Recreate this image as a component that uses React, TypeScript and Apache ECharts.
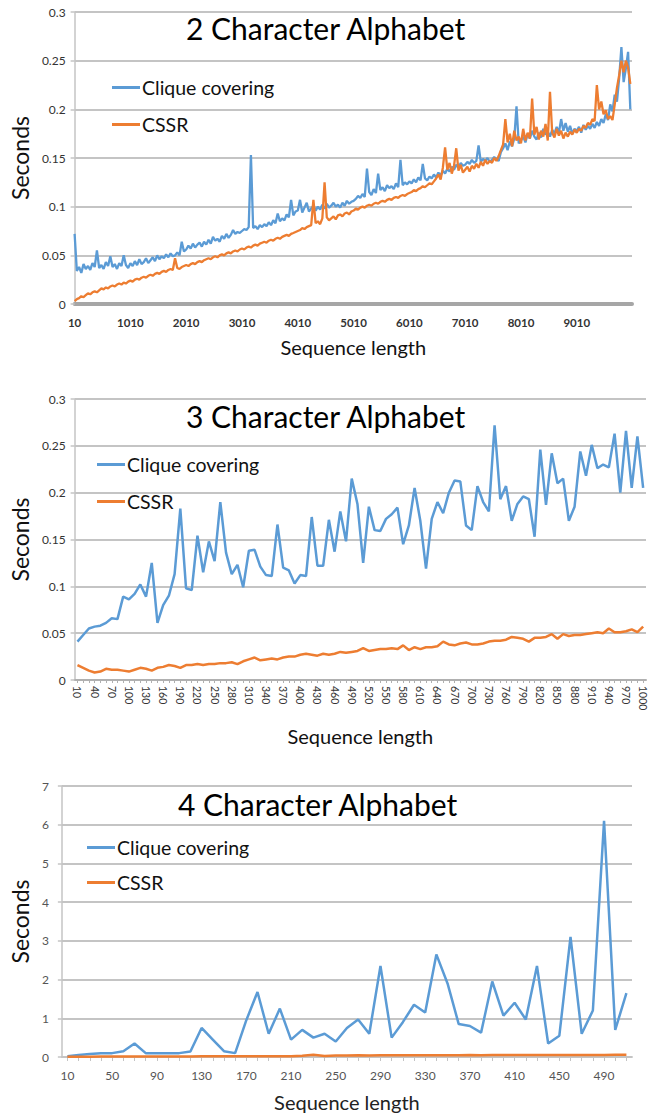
import React, { useEffect, useRef } from "react";
import * as echarts from "echarts";

const BLUE = "#5B9BD5";
const ORANGE = "#ED7D31";
const FONT = "Lato, 'Liberation Sans', sans-serif";

const TITLES = ["2 Character Alphabet", "3 Character Alphabet", "4 Character Alphabet"];
const SERIES_NAMES = ["Clique covering", "CSSR"];

// Panel 1: 2 character alphabet (categories 10..10000, sampled every 40)
const CATS_2 = Array.from({ length: 1000 }, (_, i) => String(10 + 10 * i));
const LEN_2 = Array.from({ length: 250 }, (_, i) => String(10 + 40 * i));
const CLIQUE_2 = [
  0.072, 0.034, 0.038, 0.032, 0.041, 0.036, 0.039, 0.035, 0.042, 0.038, 0.055, 0.037, 0.040, 0.036, 0.043, 0.039, 0.049, 0.038, 0.041, 0.036, 0.042, 0.039, 0.050, 0.040, 0.037,
  0.042, 0.039, 0.044, 0.040, 0.046, 0.041, 0.043, 0.047, 0.042, 0.045, 0.048, 0.044, 0.050, 0.046, 0.049, 0.047, 0.051, 0.048, 0.052, 0.049, 0.050, 0.053, 0.050, 0.064, 0.054,
  0.056, 0.060, 0.057, 0.062, 0.058, 0.061, 0.063, 0.059, 0.064, 0.061, 0.066, 0.062, 0.069, 0.065, 0.067, 0.064, 0.070, 0.067, 0.072, 0.068, 0.071, 0.076, 0.072, 0.074, 0.073,
  0.075, 0.077, 0.076, 0.079, 0.153, 0.078, 0.080, 0.077, 0.081, 0.079, 0.082, 0.080, 0.084, 0.081, 0.086, 0.083, 0.093, 0.085, 0.088, 0.086, 0.092, 0.089, 0.107, 0.091, 0.095,
  0.096, 0.107, 0.094, 0.099, 0.104, 0.095, 0.098, 0.101, 0.096, 0.100, 0.097, 0.102, 0.098, 0.103, 0.099, 0.101, 0.104, 0.100, 0.102, 0.099, 0.104, 0.101, 0.106, 0.103, 0.105,
  0.106, 0.108, 0.111, 0.109, 0.113, 0.110, 0.139, 0.115, 0.112, 0.118, 0.114, 0.134, 0.117, 0.120, 0.116, 0.122, 0.119, 0.121, 0.118, 0.124, 0.120, 0.148, 0.122, 0.125, 0.123,
  0.126, 0.124, 0.128, 0.125, 0.130, 0.127, 0.144, 0.129, 0.127, 0.131, 0.129, 0.133, 0.130, 0.135, 0.132, 0.137, 0.134, 0.139, 0.136, 0.141, 0.138, 0.143, 0.140, 0.145, 0.142,
  0.143, 0.146, 0.144, 0.148, 0.145, 0.147, 0.163, 0.146, 0.149, 0.147, 0.150, 0.146, 0.148, 0.151, 0.149, 0.147, 0.156, 0.160, 0.165, 0.158, 0.167, 0.162, 0.170, 0.203, 0.165,
  0.168, 0.172, 0.166, 0.175, 0.170, 0.178, 0.172, 0.169, 0.176, 0.171, 0.180, 0.174, 0.177, 0.172, 0.179, 0.175, 0.182, 0.176, 0.190, 0.178, 0.186, 0.177, 0.183, 0.175, 0.180,
  0.178, 0.182, 0.176, 0.184, 0.179, 0.183, 0.180, 0.185, 0.181, 0.187, 0.183, 0.190, 0.186, 0.195, 0.189, 0.205, 0.198, 0.215, 0.208, 0.232, 0.264, 0.228, 0.242, 0.259, 0.200,
];
const CSSR_2 = [
  0.003, 0.005, 0.006, 0.008, 0.007, 0.009, 0.011, 0.010, 0.012, 0.013, 0.012, 0.014, 0.016, 0.015, 0.017, 0.016, 0.018, 0.019, 0.018, 0.020, 0.021, 0.020, 0.022, 0.021, 0.023,
  0.024, 0.023, 0.025, 0.026, 0.025, 0.027, 0.028, 0.027, 0.029, 0.030, 0.029, 0.031, 0.032, 0.031, 0.033, 0.034, 0.033, 0.035, 0.036, 0.035, 0.047, 0.037, 0.036, 0.038, 0.039,
  0.040, 0.039, 0.041, 0.042, 0.041, 0.043, 0.044, 0.043, 0.045, 0.046, 0.047, 0.046, 0.048, 0.049, 0.048, 0.050, 0.051, 0.050, 0.052, 0.053, 0.052, 0.054, 0.055, 0.054, 0.056,
  0.057, 0.056, 0.058, 0.059, 0.058, 0.060, 0.061, 0.060, 0.062, 0.063, 0.064, 0.063, 0.065, 0.066, 0.065, 0.067, 0.068, 0.067, 0.069, 0.070, 0.071, 0.070, 0.072, 0.073, 0.074,
  0.075, 0.076, 0.078, 0.077, 0.079, 0.080, 0.081, 0.107, 0.083, 0.085, 0.082, 0.088, 0.125, 0.089, 0.086, 0.088, 0.090, 0.087, 0.091, 0.092, 0.090, 0.093, 0.094, 0.092, 0.095,
  0.096, 0.098, 0.097, 0.099, 0.100, 0.099, 0.101, 0.102, 0.101, 0.103, 0.104, 0.103, 0.105, 0.106, 0.105, 0.107, 0.108, 0.107, 0.109, 0.110, 0.109, 0.111, 0.112, 0.111, 0.113,
  0.114, 0.115, 0.117, 0.116, 0.118, 0.119, 0.121, 0.120, 0.122, 0.124, 0.123, 0.126, 0.129, 0.133, 0.128, 0.140, 0.161, 0.138, 0.145, 0.134, 0.142, 0.160, 0.137, 0.143, 0.135,
  0.138, 0.141, 0.136, 0.142, 0.139, 0.144, 0.140, 0.146, 0.142, 0.148, 0.144, 0.147, 0.145, 0.150, 0.147, 0.152, 0.158, 0.164, 0.190, 0.166, 0.175, 0.162, 0.178, 0.168, 0.172,
  0.165, 0.180, 0.168, 0.176, 0.170, 0.211, 0.174, 0.182, 0.169, 0.178, 0.172, 0.185, 0.168, 0.218, 0.176, 0.171, 0.180, 0.173, 0.178, 0.170, 0.176, 0.172, 0.177, 0.174, 0.179,
  0.176, 0.180, 0.178, 0.183, 0.181, 0.186, 0.184, 0.190, 0.188, 0.225, 0.200, 0.208, 0.195, 0.199, 0.190, 0.193, 0.189, 0.205, 0.222, 0.235, 0.250, 0.238, 0.250, 0.243, 0.226,
];

// Panel 2: 3 character alphabet (10..1000)
const CATS_3 = Array.from({ length: 100 }, (_, i) => String(10 + 10 * i));
const CLIQUE_3 = [
  0.041, 0.048, 0.055, 0.057, 0.058, 0.061, 0.066, 0.065, 0.089, 0.086,
  0.092, 0.102, 0.089, 0.125, 0.061, 0.080, 0.090, 0.113, 0.183, 0.098,
  0.096, 0.154, 0.115, 0.148, 0.127, 0.190, 0.136, 0.113, 0.123, 0.099,
  0.138, 0.139, 0.121, 0.112, 0.111, 0.166, 0.120, 0.117, 0.103, 0.112,
  0.111, 0.174, 0.122, 0.122, 0.171, 0.137, 0.180, 0.148, 0.215, 0.188,
  0.125, 0.185, 0.160, 0.159, 0.172, 0.177, 0.184, 0.145, 0.165, 0.205,
  0.170, 0.119, 0.172, 0.190, 0.178, 0.200, 0.213, 0.212, 0.165, 0.160,
  0.207, 0.190, 0.180, 0.272, 0.193, 0.207, 0.170, 0.188, 0.196, 0.193,
  0.153, 0.246, 0.187, 0.242, 0.210, 0.215, 0.170, 0.185, 0.244, 0.218,
  0.251, 0.226, 0.230, 0.227, 0.263, 0.200, 0.266, 0.205, 0.260, 0.205,
];
const CSSR_3 = [
  0.016, 0.013, 0.010, 0.008, 0.009, 0.012, 0.011, 0.011, 0.010, 0.009,
  0.011, 0.013, 0.012, 0.010, 0.013, 0.014, 0.016, 0.015, 0.013, 0.016,
  0.016, 0.017, 0.016, 0.017, 0.017, 0.018, 0.018, 0.019, 0.017, 0.020,
  0.022, 0.024, 0.021, 0.022, 0.023, 0.022, 0.024, 0.025, 0.025, 0.027,
  0.028, 0.027, 0.026, 0.028, 0.027, 0.028, 0.030, 0.029, 0.030, 0.031,
  0.034, 0.031, 0.032, 0.033, 0.033, 0.034, 0.033, 0.037, 0.032, 0.035,
  0.033, 0.035, 0.035, 0.036, 0.041, 0.038, 0.037, 0.039, 0.040, 0.038,
  0.038, 0.039, 0.041, 0.042, 0.042, 0.043, 0.046, 0.045, 0.044, 0.041,
  0.045, 0.045, 0.046, 0.049, 0.044, 0.049, 0.047, 0.048, 0.048, 0.049,
  0.050, 0.051, 0.050, 0.055, 0.051, 0.051, 0.052, 0.054, 0.051, 0.057,
];

// Panel 3: 4 character alphabet (10..510)
const CATS_4 = Array.from({ length: 51 }, (_, i) => String(10 + 10 * i));
const CLIQUE_4 = [
  0.02, 0.05, 0.08, 0.1, 0.1, 0.15, 0.35, 0.1, 0.1, 0.1,
  0.1, 0.14, 0.75, 0.45, 0.15, 0.1, 0.95, 1.68, 0.6, 1.25,
  0.45, 0.7, 0.5, 0.6, 0.4, 0.75, 0.97, 0.6, 2.35, 0.5,
  0.9, 1.35, 1.15, 2.65, 1.9, 0.85, 0.8, 0.63, 1.95, 1.07,
  1.4, 0.97, 2.35, 0.35, 0.55, 3.1, 0.6, 1.2, 6.1, 0.7,
  1.65,
];
const CSSR_4 = [
  0.005, 0.006, 0.008, 0.01, 0.01, 0.012, 0.012, 0.013, 0.014, 0.015,
  0.015, 0.016, 0.017, 0.018, 0.018, 0.019, 0.02, 0.02, 0.021, 0.022,
  0.022, 0.035, 0.06, 0.025, 0.04, 0.04, 0.042, 0.04, 0.043, 0.045,
  0.044, 0.045, 0.046, 0.047, 0.046, 0.048, 0.049, 0.048, 0.05, 0.05,
  0.05, 0.051, 0.05, 0.052, 0.052, 0.053, 0.053, 0.054, 0.054, 0.055,
  0.055,
];

const GRID_LINE = "#c4c4c4";

function yAxis(gridIndex: number, max: number, interval: number, labelMargin: number, nameGap: number, color: string) {
  return {
    type: "value",
    gridIndex,
    min: 0,
    max,
    interval,
    name: "Seconds",
    nameLocation: "middle",
    nameRotate: 90,
    nameGap,
    nameTextStyle: { fontFamily: FONT, fontSize: 23, color: "#111" },
    axisLine: { show: true, lineStyle: { color: GRID_LINE, width: 1.5 } },
    axisTick: { show: true, length: 4, lineStyle: { color: GRID_LINE, width: 1.5 } },
    axisLabel: { fontFamily: FONT, fontSize: 12, color, margin: labelMargin },
    splitLine: { show: true, lineStyle: { color: GRID_LINE, width: 1.8 } },
  };
}

export default function App() {
  const ref = useRef<HTMLDivElement>(null);
  useEffect(() => {
    if (!ref.current) return;
    const chart = echarts.init(ref.current, null, { renderer: "svg" });
    const legend = (left: number, top: number, gap: number) => ({
      orient: "vertical",
      left,
      top,
      padding: 0,
      icon: "rect",
      itemWidth: 28,
      itemHeight: 3,
      itemGap: gap,
      selectedMode: false,
      data: SERIES_NAMES,
      textStyle: { fontFamily: FONT, fontSize: 19.5, color: "#111", lineHeight: 21, padding: [0, 0, 0, -3] },
    });
    const title = (text: string, left: number, top: number) => ({
      text,
      left,
      top,
      padding: 0,
      textStyle: { fontFamily: FONT, fontSize: 30, fontWeight: "normal", color: "#000" },
    });
    const line = (name: string, xi: number, data: any[], color: string, width: number) => ({
      type: "line",
      name,
      xAxisIndex: xi,
      yAxisIndex: xi,
      data,
      symbol: "none",
      showSymbol: false,
      lineStyle: { color, width },
      itemStyle: { color },
      z: name === "CSSR" ? 3 : 2,
    });
    chart.setOption({
      animation: false,
      backgroundColor: "#ffffff",
      title: [title(TITLES[0], 186, 13), title(TITLES[1], 186, 401), title(TITLES[2], 178, 789)],
      legend: [legend(112, 77, 16), legend(97, 454, 16), legend(87, 837, 14)],
      grid: [
        { left: 72, right: 17, top: 12, height: 292 },
        { left: 73, right: 3, top: 399, height: 281 },
        { left: 50, right: 17, top: 786, height: 271 },
      ],
      xAxis: [
        {
          type: "category",
          gridIndex: 0,
          data: CATS_2,
          boundaryGap: false,
          name: "Sequence length",
          nameLocation: "middle",
          nameGap: 33,
          nameTextStyle: { fontFamily: FONT, fontSize: 20, color: "#111" },
          axisLine: { lineStyle: { color: "#a6a6a6", width: 4 } },
          axisTick: { show: false },
          axisLabel: { interval: 99, fontFamily: FONT, fontSize: 11.5, fontWeight: "bold", color: "#333", margin: 12 },
        },
        {
          type: "category",
          gridIndex: 1,
          data: CATS_3,
          boundaryGap: true,
          name: "Sequence length",
          nameLocation: "middle",
          nameGap: 46,
          nameTextStyle: { fontFamily: FONT, fontSize: 20, color: "#111" },
          axisLine: { lineStyle: { color: "#b0b0b0", width: 2 } },
          axisTick: { show: true, interval: 0, length: 3, alignWithLabel: true, lineStyle: { color: "#b0b0b0" } },
          axisLabel: { interval: 2, rotate: -90, fontFamily: FONT, fontSize: 10.5, color: "#333", margin: 6 },
        },
        {
          type: "category",
          gridIndex: 2,
          data: CATS_4,
          boundaryGap: true,
          name: "Sequence length",
          nameLocation: "middle",
          nameGap: 35,
          nameTextStyle: { fontFamily: FONT, fontSize: 20, color: "#222" },
          axisLine: { lineStyle: { color: GRID_LINE, width: 1.8 } },
          axisTick: { show: true, interval: 0, length: 4, alignWithLabel: true, lineStyle: { color: GRID_LINE } },
          axisLabel: { interval: 3, fontFamily: FONT, fontSize: 12, color: "#555", margin: 12 },
        },
      ],
      yAxis: [
        yAxis(0, 0.3, 0.05, 9, 26, "#333"),
        yAxis(1, 0.3, 0.05, 9, 26, "#333"),
        yAxis(2, 7, 1, 13, 22, "#555"),
      ],
      series: [
        line(SERIES_NAMES[0], 0, LEN_2.map((x, i) => [x, CLIQUE_2[i]]), BLUE, 2.3),
        line(SERIES_NAMES[1], 0, LEN_2.map((x, i) => [x, CSSR_2[i]]), ORANGE, 2.3),
        line(SERIES_NAMES[0], 1, CLIQUE_3, BLUE, 2.5),
        line(SERIES_NAMES[1], 1, CSSR_3, ORANGE, 2.5),
        line(SERIES_NAMES[0], 2, CLIQUE_4, BLUE, 2.5),
        line(SERIES_NAMES[1], 2, CSSR_4, ORANGE, 2.5),
      ],
    });
    return () => chart.dispose();
  }, []);
  return <div ref={ref} style={{ position: "fixed", left: 0, top: 0, width: 649, height: 1118 }} />;
}
